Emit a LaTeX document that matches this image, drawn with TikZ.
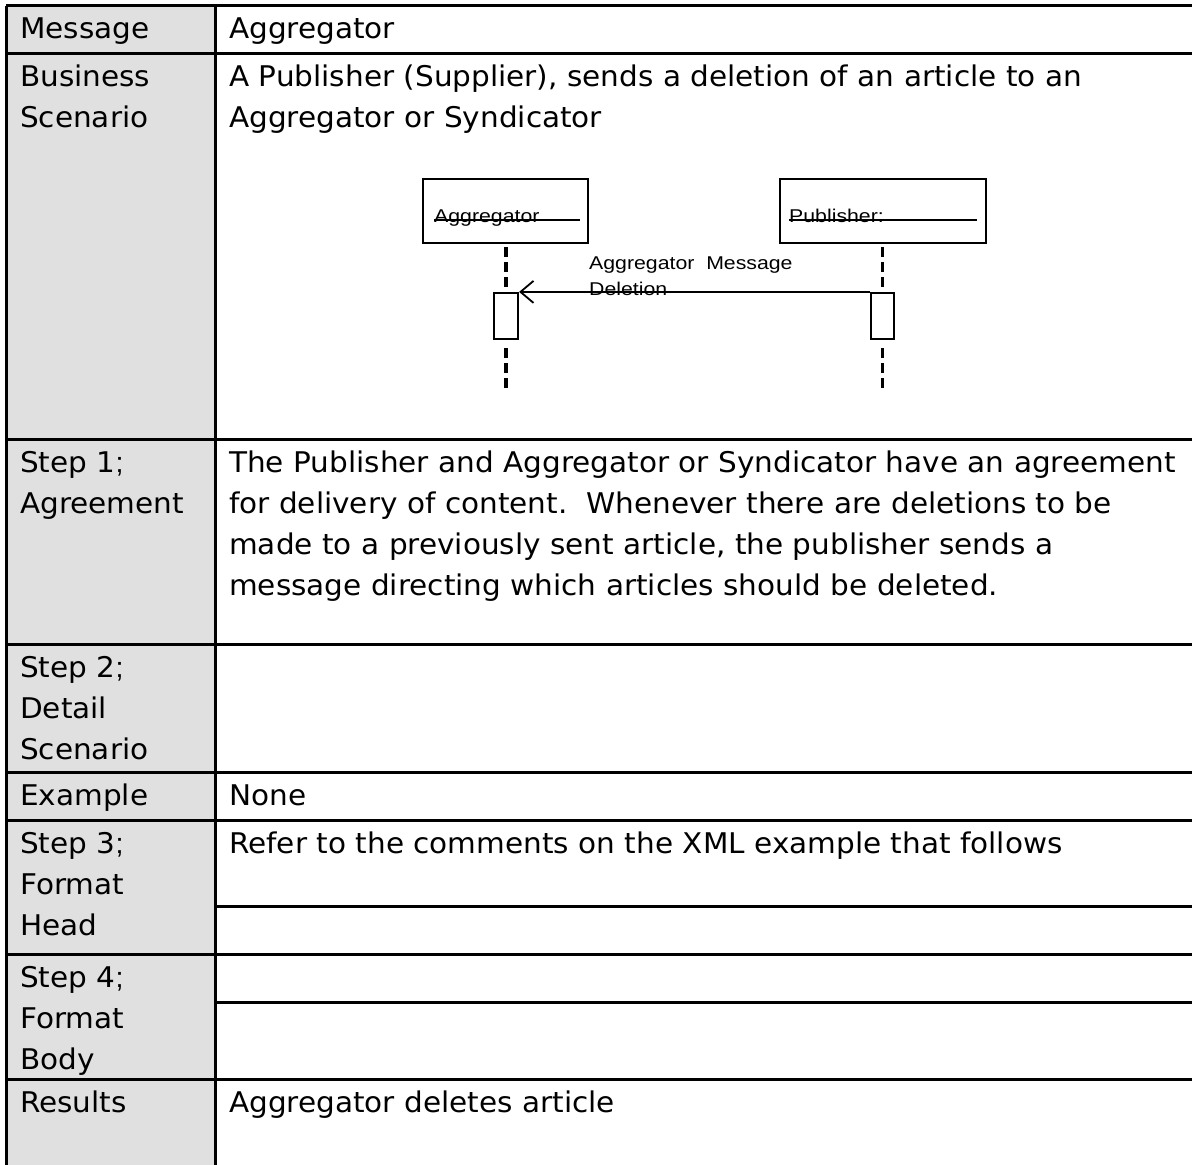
\documentclass[tikz,border=0pt]{standalone}
\usepackage{fontspec}
\setmainfont[FakeStretch=1.035]{DejaVu Sans}
\newfontfamily\semifont{Liberation Sans}
\newfontfamily\umlfont[FakeStretch=1.15]{Liberation Sans}
\usetikzlibrary{arrows.meta}
\definecolor{headgray}{RGB}{224,224,224}
\newcommand{\stepsemi}{{\semifont;}}
\tikzset{
  cell/.style={anchor=base west, inner sep=0pt, text width=1000pt, align=left,
    font=\fontsize{28.5}{41}\selectfont},
  rule/.style={line width=3pt},
  umlbox/.style={draw, line width=2.2pt, inner sep=0pt},
  umlname/.style={anchor=base west, inner sep=0pt, font=\umlfont\fontsize{18.5}{26}\selectfont},
  lifeline/.style={line width=3.2pt, dash pattern=on 10pt off 5pt},
  msg/.style={line width=2pt, -{Straight Barb[length=13pt,width=22pt,line width=1.8pt]}},
}
\begin{document}
\begin{tikzpicture}[x=1pt,y=-1pt]
\useasboundingbox (0,0) rectangle (1192,1165);
% header column
\fill[headgray] (6,5.5) rectangle (215,1165);
% table rules
\draw[rule] (6,5.5) -- (6,1165);
\draw[rule] (215,5.5) -- (215,1165);
\foreach \yy in {5.5,53,439,644,772,820,954,1079}
  \draw[rule] (6,\yy) -- (1192,\yy);
\foreach \yy in {906,1002}
  \draw[rule] (215,\yy) -- (1192,\yy);

% header cells
\node[cell] (h1) at (20,38.5) {Message};
\node[cell] (h2) at (20,86.5) {Business\\Scenario};
\node[cell] (h3) at (20,472.5) {Step 1\stepsemi\\Agreement};
\node[cell] (h4) at (20,677.5) {Step 2\stepsemi\\Detail\\Scenario};
\node[cell] (h5) at (20,805.5) {Example};
\node[cell] (h6) at (20,853.5) {Step 3\stepsemi\\Format\\Head};
\node[cell] (h7) at (20,987.5) {Step 4\stepsemi\\Format\\Body};
\node[cell] (h8) at (20,1112.5) {Results};

% content cells
\node[cell] (c1) at (229,38.5) {Aggregator};
\node[cell] (c2) at (229,86.5) {A Publisher (Supplier), sends a deletion of an article to an\\Aggregator or Syndicator};
\node[cell] (c3) at (229,472.5) {The Publisher and Aggregator or Syndicator have an agreement\\for delivery of content.\ \ Whenever there are deletions to be\\made to a previously sent article, the publisher sends a\\message directing which articles should be deleted.};
\node[cell] (c5) at (229,805.5) {None};
\node[cell] (c6) at (229,853.5) {Refer to the comments on the XML example that follows};
\node[cell] (c8) at (229,1112.5) {Aggregator deletes article};

% sequence diagram: objects
\node[umlbox, minimum width=165pt, minimum height=64pt] (aggbox) at (505.5,211) {};
\node[umlbox, minimum width=206pt, minimum height=64pt] (pubbox) at (883,211) {};
\node[umlname] (aggname) at (434,222) {Aggregator};
\node[umlname] (pubname) at (789,222) {Publisher:};
\draw[line width=1.8pt] (434,220) -- (580,220);
\draw[line width=1.8pt] (789,220) -- (977,220);

% activations
\node[umlbox, minimum width=24pt, minimum height=46pt] (aggact) at (506,316) {};
\node[umlbox, minimum width=23pt, minimum height=46pt] (pubact) at (882.5,316) {};
\coordinate (aggend) at (506,388);
\coordinate (pubend) at (882.5,388);

% lifelines (lower parts drawn upward so they end on a dash)
\draw[lifeline] (aggbox.south -| aggact.north) ++(0,3) -- (aggact.north);
\draw[lifeline] (aggend) -- ([yshift=-3pt]aggact.south);
\draw[lifeline] (pubbox.south -| pubact.north) ++(0,3) -- (pubact.north);
\draw[lifeline] (pubend) -- ([yshift=-3pt]pubact.south);

% message (base anchor sits on the last line)
\node[umlname, align=left] (msglabel) at (589,295) {Aggregator\ \ Message\\Deletion};
\draw[msg] (pubact.north west) -- (aggact.north east);
\end{tikzpicture}
\end{document}
